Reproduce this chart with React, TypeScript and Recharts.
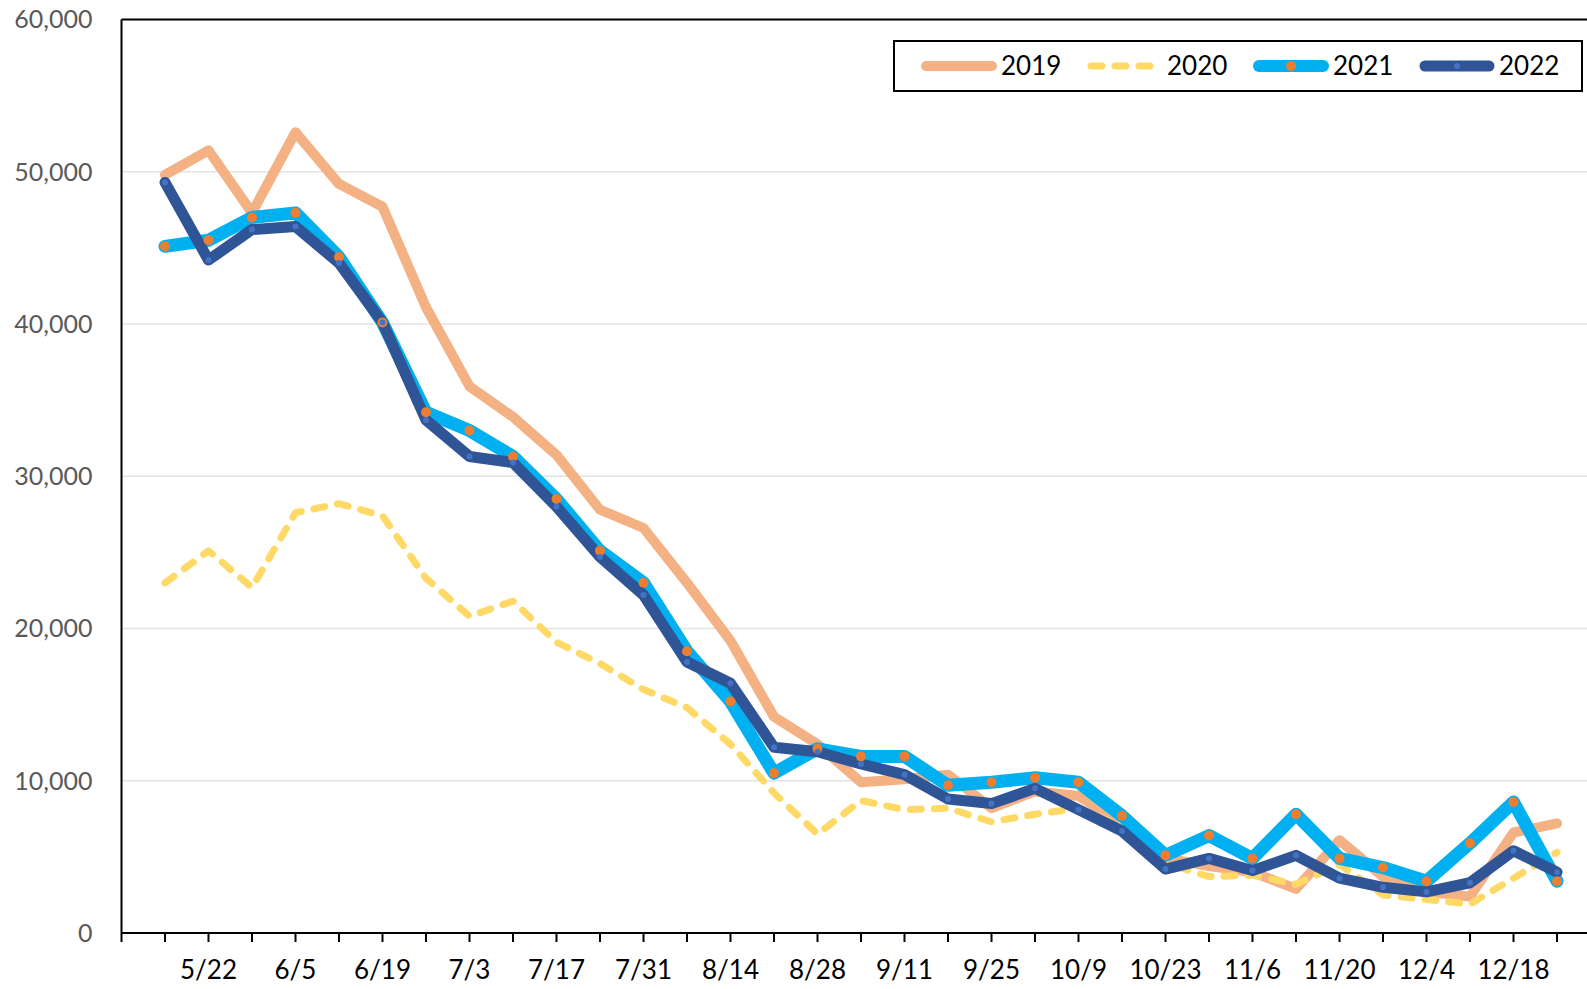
import { CartesianGrid, Legend, Line, LineChart, ReferenceLine, XAxis, YAxis } from 'recharts';

// weekly categories, first slot is blank (the axis starts one step before the data)
const categories = [
  '', '5/15', '5/22', '5/29', '6/5', '6/12', '6/19', '6/26', '7/3', '7/10', '7/17', '7/24',
  '7/31', '8/7', '8/14', '8/21', '8/28', '9/4', '9/11', '9/18', '9/25', '10/2', '10/9',
  '10/16', '10/23', '10/30', '11/6', '11/13', '11/20', '11/27', '12/4', '12/11', '12/18', '12/25',
];

const v2019 = [
  49800, 51400, 47300, 52600, 49200, 47700, 41100, 35900, 33900, 31400, 27800, 26600, 23000,
  19200, 14200, 12400, 9900, 10100, 10400, 8200, 9300, 9000, 7200, 4900, 4400, 4000, 2900,
  6100, 3700, 2700, 2400, 6600, 7200,
];
const v2020 = [
  23000, 25100, 22700, 27600, 28200, 27400, 23300, 20800, 21800, 19100, 17700, 16000, 14800,
  12400, 9200, 6500, 8700, 8100, 8200, 7300, 7800, 8200, 7000, 4600, 3700, 3800, 3200,
  4500, 2500, 2200, 1900, 3600, 5300,
];
const v2021 = [
  45100, 45500, 47000, 47300, 44400, 40100, 34200, 33000, 31300, 28500, 25100, 23000, 18500,
  15200, 10500, 12100, 11600, 11600, 9700, 9900, 10200, 9900, 7700, 5100, 6400, 4900, 7800,
  4900, 4300, 3400, 5900, 8600, 3400,
];
const v2022 = [
  49300, 44200, 46200, 46400, 44000, 40100, 33700, 31300, 30900, 28000, 24700, 22200, 17800,
  16400, 12200, 11900, 11100, 10400, 8800, 8500, 9500, 8100, 6700, 4200, 4900, 4100, 5100,
  3600, 3000, 2700, 3300, 5400, 4000,
];

const yTicks = [0, 10000, 20000, 30000, 40000, 50000, 60000];

const data = categories.map((day, i) => ({
  day,
  y2019: i === 0 ? null : v2019[i - 1],
  y2020: i === 0 ? null : v2020[i - 1],
  y2021: i === 0 ? null : v2021[i - 1],
  y2022: i === 0 ? null : v2022[i - 1],
}));

const FONT = 'Lato, "Noto Sans", sans-serif';

function DayTick(props: any) {
  const { x, y, payload } = props;
  const i = typeof props.index === 'number' ? props.index : categories.indexOf(payload.value);
  return (
    <g>
      <line x1={x} x2={x} y1={y} y2={y + 9} stroke="#000" strokeWidth={2} />
      {i % 2 === 0 && payload.value ? (
        <text x={x} y={y + 46} textAnchor="middle" fontSize={26} fill="#000" fontFamily={FONT}>
          {payload.value}
        </text>
      ) : null}
    </g>
  );
}

function LegendSwatch({ name, x }: { name: string; x: number }) {
  const cy = 26;
  if (name === '2019') {
    return <line x1={x + 5} x2={x + 71} y1={cy} y2={cy} stroke="#F4B183" strokeWidth={10} strokeLinecap="round" />;
  }
  if (name === '2020') {
    return (
      <line x1={x + 4} x2={x + 72} y1={cy} y2={cy} stroke="#FFD966" strokeWidth={7}
        strokeLinecap="round" strokeDasharray="11 13" />
    );
  }
  if (name === '2021') {
    return (
      <g>
        <line x1={x + 6} x2={x + 70} y1={cy} y2={cy} stroke="#00B0F0" strokeWidth={12} strokeLinecap="round" />
        <circle cx={x + 38} cy={cy} r={5} fill="#ED7D31" />
      </g>
    );
  }
  return (
    <g>
      <line x1={x + 6} x2={x + 70} y1={cy} y2={cy} stroke="#2F5597" strokeWidth={11} strokeLinecap="round" />
      <circle cx={x + 38} cy={cy} r={3} fill="#4472C4" />
    </g>
  );
}

function renderLegend(props: any) {
  const payload = props.payload || [];
  return (
    <svg width={690} height={52} style={{ display: 'block' }}>
      <rect x={1} y={1} width={688} height={50} fill="#fff" stroke="#000" strokeWidth={2} />
      {payload.map((entry: any, i: number) => {
        const x0 = 28 + i * 166;
        return (
          <g key={entry.value}>
            <LegendSwatch name={String(entry.value)} x={x0} />
            <text x={x0 + 80} y={35} fontSize={26} fill="#000" fontFamily={FONT}>
              {entry.value}
            </text>
          </g>
        );
      })}
    </svg>
  );
}

export default function App() {
  return (
    <div style={{ position: 'absolute', left: 0, top: 0, background: '#fff' }}>
      <LineChart
        width={1587}
        height={989}
        data={data}
        margin={{ top: 19.5, right: 0, left: 0, bottom: 0 }}
        style={{ fontFamily: FONT }}
      >
        <CartesianGrid vertical={false} stroke="#E3E3E3" strokeWidth={1.5} />
        <XAxis
          dataKey="day"
          interval={0}
          height={56}
          padding={{ left: 0, right: 30 }}
          axisLine={{ stroke: '#000', strokeWidth: 2 }}
          tickLine={false}
          tickSize={0}
          tickMargin={0}
          tick={<DayTick />}
        />
        <YAxis
          width={121.5}
          domain={[0, 60000]}
          ticks={yTicks}
          interval={0}
          axisLine={{ stroke: '#000', strokeWidth: 2 }}
          tickLine={false}
          tickSize={0}
          tickMargin={29}
          tick={{ fill: '#595959', fontSize: 25, fontFamily: FONT }}
          tickFormatter={(v: number) => v.toLocaleString('en-US')}
        />
        <ReferenceLine y={60000} stroke="#000" strokeWidth={2} />
        <Legend
          layout="horizontal"
          verticalAlign="middle"
          align="center"
          content={renderLegend}
          wrapperStyle={{ position: 'absolute', left: 893, top: 40, width: 690, height: 52 }}
        />
        <Line
          type="linear"
          dataKey="y2019"
          name="2019"
          stroke="#F4B183"
          strokeWidth={10}
          strokeLinejoin="round"
          strokeLinecap="round"
          dot={false}
          activeDot={false}
          isAnimationActive={false}
        />
        <Line
          type="linear"
          dataKey="y2020"
          name="2020"
          stroke="#FFD966"
          strokeWidth={7}
          strokeDasharray="11 13"
          strokeLinejoin="round"
          strokeLinecap="round"
          dot={false}
          activeDot={false}
          isAnimationActive={false}
        />
        <Line
          type="linear"
          dataKey="y2021"
          name="2021"
          stroke="#00B0F0"
          strokeWidth={13}
          strokeLinejoin="round"
          strokeLinecap="round"
          dot={{ r: 5, fill: '#ED7D31', stroke: 'none', strokeWidth: 0 }}
          activeDot={false}
          isAnimationActive={false}
        />
        <Line
          type="linear"
          dataKey="y2022"
          name="2022"
          stroke="#2F5597"
          strokeWidth={11}
          strokeLinejoin="round"
          strokeLinecap="round"
          dot={{ r: 3, fill: '#4472C4', stroke: 'none', strokeWidth: 0 }}
          activeDot={false}
          isAnimationActive={false}
        />
      </LineChart>
    </div>
  );
}
